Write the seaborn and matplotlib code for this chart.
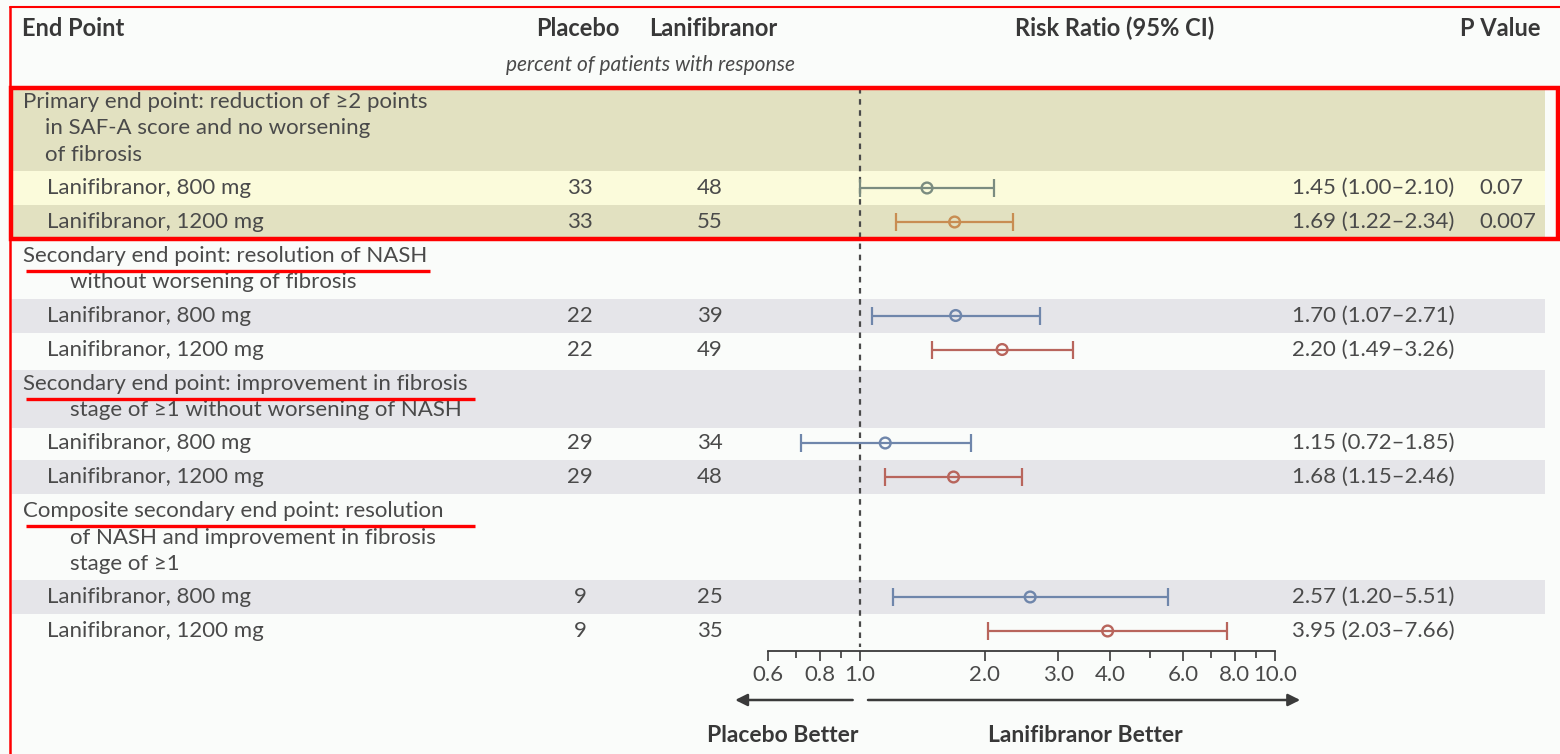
import numpy as np
import pandas as pd
import seaborn as sns
import matplotlib.pyplot as plt
from matplotlib.patches import Rectangle
from matplotlib.ticker import FixedLocator, FixedFormatter, NullFormatter

#Data
endpoints = [
    ['Primary end point: reduction of \u22652 points', 'in SAF-A score and no worsening', 'of fibrosis'],
    ['Secondary end point: resolution of NASH', 'without worsening of fibrosis'],
    ['Secondary end point: improvement in fibrosis', 'stage of \u22651 without worsening of NASH'],
    ['Composite secondary end point: resolution', 'of NASH and improvement in fibrosis', 'stage of \u22651'],
]
doses = ['Lanifibranor, 800 mg', 'Lanifibranor, 1200 mg']
placebo = [33, 33, 22, 22, 29, 29, 9, 9]
lanifibranor = [48, 55, 39, 49, 34, 48, 25, 35]
risk_ratio = [1.45, 1.69, 1.70, 2.20, 1.15, 1.68, 2.57, 3.95]
ci_low = [1.00, 1.22, 1.07, 1.49, 0.72, 1.15, 1.20, 2.03]
ci_high = [2.10, 2.34, 2.71, 3.26, 1.85, 2.46, 5.51, 7.66]
p_values = ['0.07', '0.007', '', '', '', '', '', '']
tick_values = [0.6, 0.8, 1.0, 2.0, 3.0, 4.0, 6.0, 8.0, 10.0]
minor_ticks = [0.7, 0.9, 5.0, 7.0, 9.0]

#Style
sns.set_theme(style='white')
plt.rcParams['font.family'] = ['Lato', 'DejaVu Sans']
W, H = 1560, 754
FS = 16
HFS = 17
txt = '#4a4a4a'
hdr = '#383838'
bg_col = '#fafcfa'
shade = '#e5e5e9'
hl_dark, hl_light = '#e2e1c1', '#fbfbdb'
col800, col1200 = '#6f86ab', '#b8655c'
hl800, hl1200 = '#7b8c80', '#c88d52'

#Layout in pixel units (row positions)
line_step, head_to_row, row_step, row_to_head = 26.5, 33, 34, 34
y = 102
heads, rows, bands = [], [], []
for g, lines in enumerate(endpoints):
    ys = [y + i * line_step for i in range(len(lines))]
    heads.append(ys)
    bands.append((ys[0] - 14, ys[-1] + 17.5, g % 2 == 0, g))
    y = ys[-1] + head_to_row
    for k in range(2):
        rows.append(y)
        bands.append((y - 17, y + 17, (g + k + 1) % 2 == 0, g))
        y += row_step
    y += row_to_head - row_step

df = pd.DataFrame({'dose': doses * 4, 'placebo': placebo, 'lani': lanifibranor,
                   'rr': risk_ratio, 'lo': ci_low, 'hi': ci_high, 'p': p_values, 'y': rows})
df['group'] = np.repeat(np.arange(4), 2)
df['color'] = [(hl800 if g == 0 else col800) if d.endswith('800 mg') else (hl1200 if g == 0 else col1200)
               for d, g in zip(df['dose'], df['group'])]

fig = plt.figure(figsize=(W / 100, H / 100), dpi=100)
fig.patch.set_facecolor(bg_col)

#Background axes in pixel coordinates: bands and text columns
bg = fig.add_axes([0, 0, 1, 1])
bg.set_xlim(0, W)
bg.set_ylim(H, 0)
bg.axis('off')

for top, bot, shaded, g in bands:
    if g == 0:
        c = hl_dark if shaded else hl_light
    else:
        c = shade if shaded else None
    if c:
        bg.add_patch(Rectangle((12, top), 1533, bot - top, color=c, lw=0, zorder=0))

bg.text(22, 28, 'End Point', fontsize=HFS, fontweight='bold', color=hdr, va='center')
bg.text(578, 28, 'Placebo', fontsize=HFS, fontweight='bold', color=hdr, va='center', ha='center')
bg.text(713, 28, 'Lanifibranor', fontsize=HFS, fontweight='bold', color=hdr, va='center', ha='center')
bg.text(650, 65, 'percent of patients with response', fontsize=FS - 1, style='italic', color=txt,
        va='center', ha='center')
bg.text(1115, 28, 'Risk Ratio (95% CI)', fontsize=HFS, fontweight='bold', color=hdr, va='center', ha='center')
bg.text(1540, 28, 'P Value', fontsize=HFS, fontweight='bold', color=hdr, va='center', ha='right')

for g, lines in enumerate(endpoints):
    for i, (line, ly) in enumerate(zip(lines, heads[g])):
        bg.text(23 if i == 0 else (45 if g == 0 else 70), ly, line, fontsize=FS, color=txt, va='center')

for _, r in df.iterrows():
    bg.text(47, r['y'], r['dose'], fontsize=FS, color=txt, va='center')
    bg.text(580, r['y'], str(r['placebo']), fontsize=FS, color=txt, va='center', ha='center')
    bg.text(710, r['y'], str(r['lani']), fontsize=FS, color=txt, va='center', ha='center')
    bg.text(1292, r['y'], f"{r['rr']:.2f} ({r['lo']:.2f}\u2013{r['hi']:.2f})", fontsize=FS, color=txt, va='center')
    if r['p']:
        bg.text(1479, r['y'], r['p'], fontsize=FS, color=txt, va='center')

bg.text(783, 735, 'Placebo Better', fontsize=HFS - 0.5, fontweight='bold', color=hdr, va='center', ha='center')
bg.text(1085, 735, 'Lanifibranor Better', fontsize=HFS - 0.5, fontweight='bold', color=hdr, va='center', ha='center')

#Forest axes (log scale), sharing the pixel y coordinates
fx = fig.add_axes([768 / W, 0, (1275 - 768) / W, 1])
fx.set_xscale('log')
fx.set_xlim(tick_values[0], tick_values[-1])
fx.set_ylim(H, 0)
fx.patch.set_alpha(0)

axis_y = rows[-1] + 20
fx.vlines(1.0, bands[0][0], axis_y - 4, colors='#4a4a4a', linestyles=(0, (2.5, 2.5)), lw=1.6, zorder=1)

for _, r in df.iterrows():
    fx.errorbar(r['rr'], r['y'], xerr=[[r['rr'] - r['lo']], [r['hi'] - r['rr']]], fmt='none',
                ecolor=r['color'], elinewidth=1.6, capsize=6.5, capthick=1.6, zorder=2)

pal = dict(zip(df['color'], df['color']))
sns.scatterplot(data=df, x='rr', y='y', hue='color', palette=pal, s=60, marker='o',
                legend=False, ax=fx, zorder=3, linewidth=1.7)
pts = fx.collections[-1]
pts.set_edgecolors(pts.get_facecolors())
pts.set_facecolors('none')

for s in ['top', 'left', 'right']:
    fx.spines[s].set_visible(False)
fx.spines['bottom'].set_position(('data', axis_y))
fx.spines['bottom'].set_bounds(tick_values[0], tick_values[-1])
fx.spines['bottom'].set_color('#3a3a3a')
fx.spines['bottom'].set_linewidth(1.3)
fx.xaxis.set_major_locator(FixedLocator(tick_values))
fx.xaxis.set_major_formatter(FixedFormatter([f'{t:.1f}' for t in tick_values]))
fx.xaxis.set_minor_locator(FixedLocator(minor_ticks))
fx.xaxis.set_minor_formatter(NullFormatter())
fx.tick_params(axis='x', which='major', direction='out', length=7, width=1.2, color='#3a3a3a',
               labelcolor=txt, labelsize=FS, pad=3, bottom=True)
fx.tick_params(axis='x', which='minor', direction='out', length=5, width=1.2, color='#3a3a3a', bottom=True)
fx.set_yticks([])
fx.set_xlabel('')
fx.set_ylabel('')

arrow = dict(arrowstyle='-|>', color='#3a3a3a', lw=1.8, mutation_scale=18, shrinkA=0, shrinkB=0)
fx.annotate('', xy=(0.50, 700), xytext=(0.96, 700), arrowprops=arrow, annotation_clip=False)
fx.annotate('', xy=(11.5, 700), xytext=(1.045, 700), arrowprops=arrow, annotation_clip=False)

#Red highlight marks on top
ov = fig.add_axes([0, 0, 1, 1])
ov.set_xlim(0, W)
ov.set_ylim(H, 0)
ov.axis('off')
ov.patch.set_alpha(0)
ov.plot([10, W], [7, 7], color='red', lw=1.5)
ov.plot([10, 10], [7, H], color='red', lw=1.8)
ov.add_patch(Rectangle((11, bands[0][0]), 1547, bands[2][1] - bands[0][0], fill=False, ec='red', lw=3.2))
for g, x1 in zip([1, 2, 3], [430, 475, 475]):
    ov.plot([26, x1], [heads[g][0] + 15, heads[g][0] + 15], color='red', lw=2.4, solid_capstyle='butt')

fig.savefig('out.png', dpi=100, facecolor=fig.get_facecolor())
